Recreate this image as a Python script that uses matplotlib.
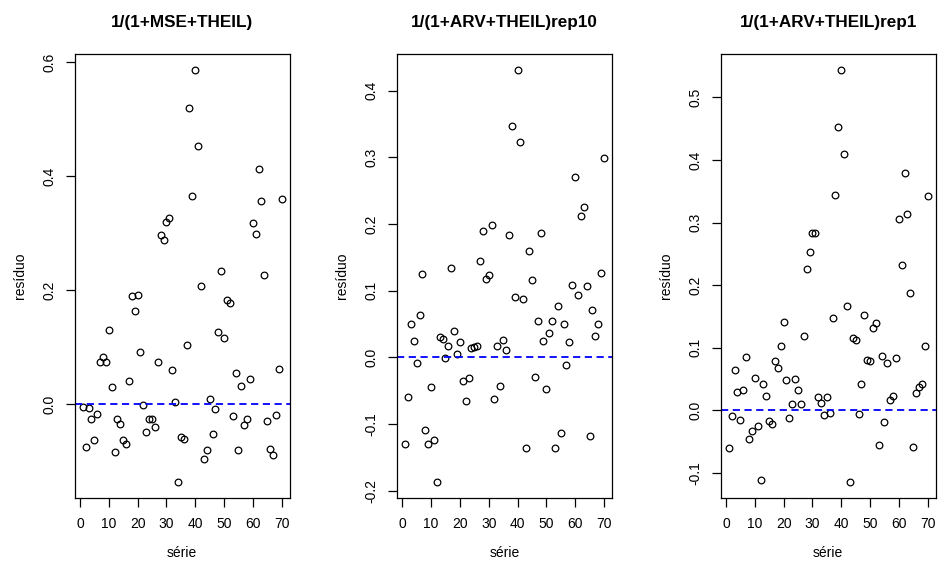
# residuos das tres redes, estilo plot() do R com mfrow=c(1,3)

import matplotlib
matplotlib.use('Agg')
import matplotlib.pyplot as plt

plt.rcParams['font.family'] = ['Liberation Sans', 'DejaVu Sans']

serie = list(range(1, 71))

titulos = ['1/(1+MSE+THEIL)', '1/(1+ARV+THEIL)rep10', '1/(1+ARV+THEIL)rep1']

res_mse_theil = [
    -0.006, -0.076, -0.007, -0.026, -0.063, -0.017, 0.074, 0.082, 0.073, 0.130,
    0.030, -0.084, -0.027, -0.035, -0.064, -0.070, 0.041, 0.189, 0.164, 0.191,
    0.092, -0.002, -0.049, -0.026, -0.027, -0.040, 0.073, 0.296, 0.287, 0.320,
    0.326, 0.059, 0.004, -0.136, -0.057, -0.061, 0.103, 0.519, 0.365, 0.586,
    0.453, 0.207, -0.097, -0.080, 0.008, -0.052, -0.009, 0.126, 0.233, 0.115,
    0.183, 0.178, -0.021, 0.055, -0.081, 0.032, -0.036, -0.026, 0.043, 0.317,
    0.299, 0.412, 0.356, 0.226, -0.030, -0.079, -0.089, -0.020, 0.062, 0.360,
]

res_arv_rep10 = [
    -0.129, -0.060, 0.050, 0.024, -0.008, 0.064, 0.125, -0.109, -0.129, -0.044,
    -0.123, -0.186, 0.030, 0.028, -0.001, 0.017, 0.134, 0.039, 0.005, 0.023,
    -0.036, -0.065, -0.031, 0.014, 0.016, 0.017, 0.144, 0.190, 0.118, 0.123,
    0.199, -0.063, 0.017, -0.043, 0.026, 0.011, 0.183, 0.347, 0.091, 0.431,
    0.323, 0.087, -0.136, 0.160, 0.116, -0.029, 0.054, 0.187, 0.024, -0.048,
    0.036, 0.054, -0.136, 0.077, -0.113, 0.050, -0.012, 0.023, 0.108, 0.270,
    0.094, 0.212, 0.225, 0.107, -0.117, 0.071, 0.032, 0.050, 0.127, 0.299,
]

res_arv_rep1 = [
    -0.061, -0.010, 0.065, 0.029, -0.016, 0.032, 0.085, -0.046, -0.034, 0.051,
    -0.025, -0.112, 0.042, 0.022, -0.017, -0.022, 0.079, 0.067, 0.103, 0.141,
    0.048, -0.012, 0.010, 0.050, 0.032, 0.010, 0.119, 0.225, 0.253, 0.284,
    0.284, 0.021, 0.012, -0.008, 0.021, -0.004, 0.148, 0.344, 0.453, 0.544,
    0.409, 0.167, -0.114, 0.115, 0.113, -0.006, 0.042, 0.153, 0.080, 0.079,
    0.131, 0.139, -0.055, 0.087, -0.019, 0.075, 0.017, 0.023, 0.083, 0.305,
    0.232, 0.379, 0.313, 0.187, -0.058, 0.027, 0.037, 0.042, 0.102, 0.342,
]

x_ticks = [0, 10, 20, 30, 40, 50, 60, 70]
y_ticks = [
    [0.0, 0.2, 0.4, 0.6],
    [-0.2, -0.1, 0.0, 0.1, 0.2, 0.3, 0.4],
    [-0.1, 0.0, 0.1, 0.2, 0.3, 0.4, 0.5],
]

residuos = [res_mse_theil, res_arv_rep10, res_arv_rep1]

fig = plt.figure(figsize=(9.38, 5.63), dpi=100)

W, H = 938, 563
lefts = [74.9, 397.2, 720.9]
largura = 214.7
topo, base = 53.5, 498.0

for i in range(3):
    ax = fig.add_axes([lefts[i] / W, (H - base) / H, largura / W, (base - topo) / H])
    ax.plot(serie, residuos[i], 'o', mfc='none', mec='black', ms=4.8, mew=0.9)
    ax.axhline(0, color='blue', lw=1.3, ls=(0, (4, 2.5)))
    ax.margins(0.04)
    ax.set_xticks(x_ticks)
    ax.set_yticks(y_ticks[i])
    ax.set_yticklabels(['%.1f' % v for v in y_ticks[i]], rotation=90, va='center')
    ax.tick_params(direction='out', length=6.5, width=0.9, labelsize=10, pad=7)
    for s in ax.spines.values():
        s.set_linewidth(0.9)
    ax.set_title(titulos[i], fontsize=12.3, fontweight='bold', pad=19)
    ax.set_xlabel('série', fontsize=10)
    ax.set_ylabel('resíduo', fontsize=10)
    ax.xaxis.set_label_coords(0.5, -0.108)  # um pouco acima para nao cortar
    ax.yaxis.set_label_coords(-0.223, 0.5)

plt.savefig('out.png', dpi=100)
